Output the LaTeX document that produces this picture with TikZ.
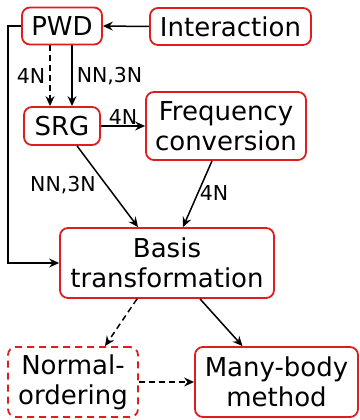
\documentclass[tikz,border=0pt]{standalone}
\usepackage{fontspec}
\setmainfont{DejaVu Sans}
\usetikzlibrary{arrows.meta,calc}
\definecolor{boxred}{RGB}{222,30,30}
\begin{document}
\begin{tikzpicture}[x=1pt,y=-1pt,
  box/.style={draw=boxred,line width=1.8pt,rounded corners=8pt,align=center,inner sep=0pt,
    font=\fontsize{26}{30}\selectfont},
  conn/.style={line width=1.5pt,-{Stealth[length=10pt,width=9pt,inset=3.5pt]}},
  lbl/.style={font=\fontsize{20.5}{22}\selectfont,inner sep=0pt}]
\useasboundingbox (0,0) rectangle (359,420);
\node[box,minimum width=80pt,minimum height=37pt] (PWD) at (62,26) {PWD};
\node[box,minimum width=161pt,minimum height=37pt] (INT) at (230.5,26.5) {Interaction};
\node[box,minimum width=76pt,minimum height=38pt] (SRG) at (62,126) {SRG};
\node[box,minimum width=160pt,minimum height=68pt] (FC) at (226,126) {Frequency\\conversion};
\node[box,minimum width=214pt,minimum height=70pt] (BT) at (167,263) {Basis\\transformation};
\node[box,dashed,dash pattern=on 7pt off 5pt,minimum width=130pt,minimum height=70pt] (NO) at (73,382) {Normal-\\ordering};
\node[box,minimum width=163pt,minimum height=70pt] (MB) at (276.5,382) {Many-body\\method};

\draw[conn] (INT.west) -- (PWD.east);
\draw[conn,dashed,dash pattern=on 6pt off 4pt] ($(PWD.south)+(-12,0)$) -- ($(SRG.north)+(-12,0)$)
  node[lbl,midway,left=4pt] {4N};
\draw[conn] ($(PWD.south)+(10,0)$) -- ($(SRG.north)+(10,0)$)
  node[lbl,midway,right=4pt] {NN,3N};
\draw[conn] (SRG.east) -- (FC.west) node[lbl,midway,above=1pt] {4N};
\draw[conn] ($(SRG.south)+(15,0)$) -- ($(BT.north)+(-29,0)$);
\node[lbl] (l1) at (63,185) {NN,3N};
\draw[conn] ($(FC.south)+(-14,0)$) -- ($(BT.north)+(16,0)$);
\node[lbl] (l2) at (214,193) {4N};
\draw[conn] (PWD.west) -- ++(-13,0) |- (BT.west);
\draw[conn,dashed,dash pattern=on 6pt off 4pt] ($(BT.south)+(-30,0)$) -- ($(NO.north)+(32,0)$);
\draw[conn] ($(BT.south)+(33,0)$) -- ($(MB.north)+(-34,0)$);
\draw[conn,dashed,dash pattern=on 6pt off 4pt] (NO.east) -- (MB.west);
\end{tikzpicture}
\end{document}
